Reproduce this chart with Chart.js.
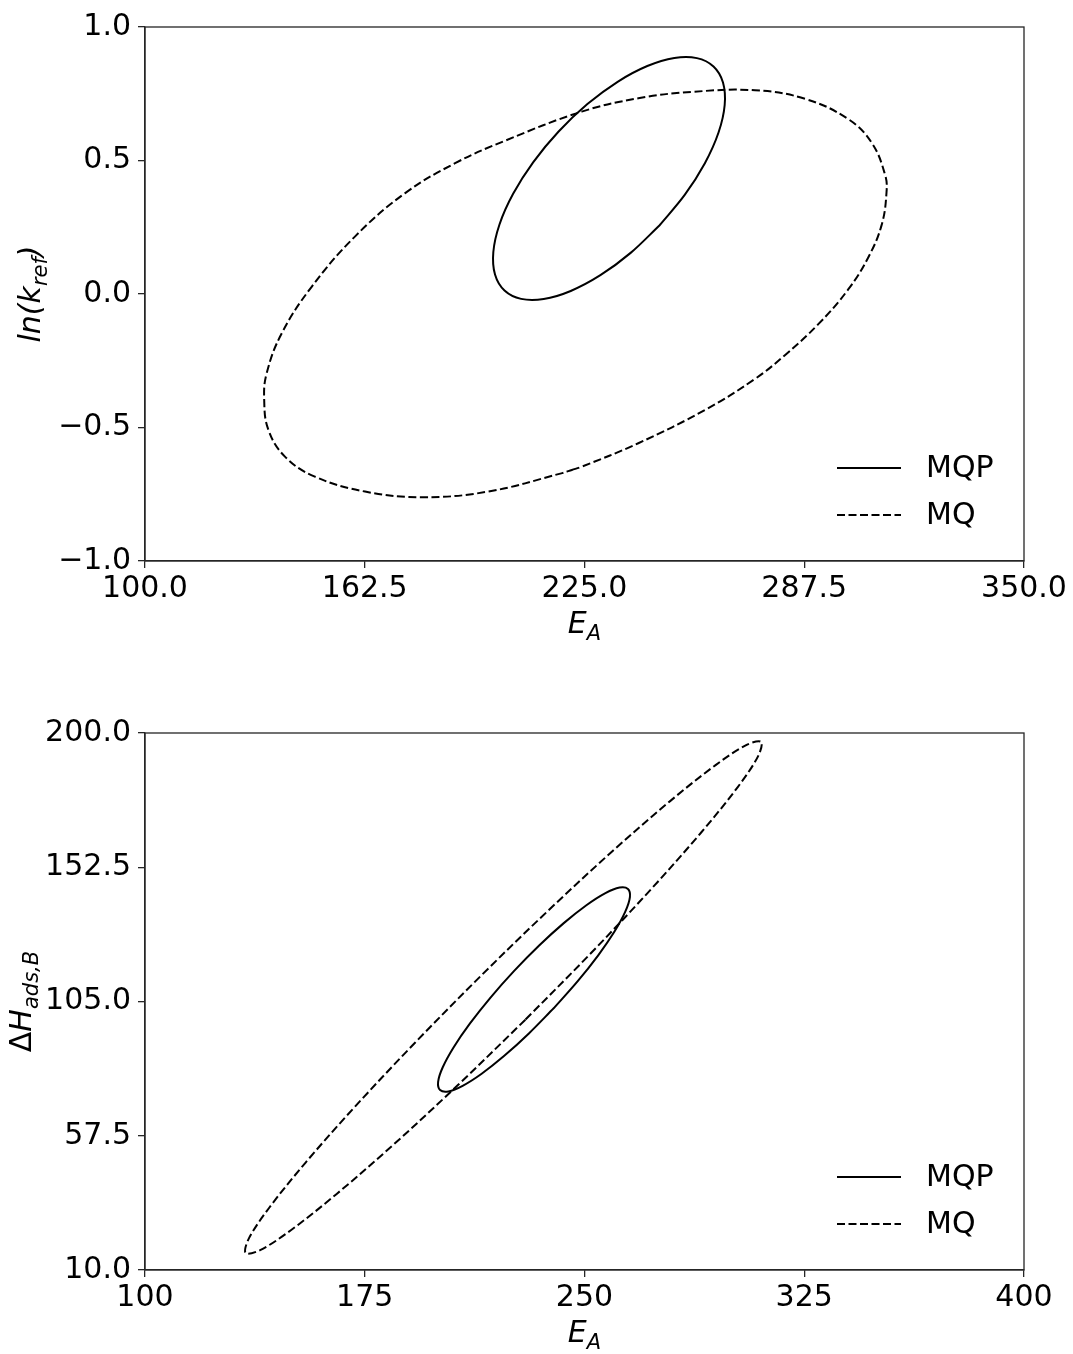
<!DOCTYPE html>
<html>
<head>
<meta charset="utf-8">
<script src="https://cdn.jsdelivr.net/npm/chart.js@4"></script>
<style>
  body { margin: 0; background: #fff; }
  .panel { position: absolute; left: 0; width: 1073px; }
</style>
</head>
<body>
<div class="panel" style="top:0;height:650px"><canvas id="top-plot"></canvas></div>
<div class="panel" style="top:700px;height:654px"><canvas id="bottom-plot"></canvas></div>
<script>
// ---- top panel: E_A vs ln(k_ref) ----
const topTicksX = [100, 162.5, 225, 287.5, 350];
const topTickLabelsX = ['100.0', '162.5', '225.0', '287.5', '350.0'];
const topTicksY = [-1, -0.5, 0, 0.5, 1];
const topTickLabelsY = ['\u22121.0', '\u22120.5', '0.0', '0.5', '1.0'];

const topMqpX = [246.30, 238.12, 229.52, 221.08, 213.40, 206.97, 202.25, 199.55, 199.07, 200.82, 204.70, 210.44, 217.64, 225.82, 234.42, 242.86, 250.55, 256.97, 261.69, 264.39, 264.87, 263.12, 259.24, 253.50, 246.30];
const topMqpY = [0.2566, 0.1540, 0.0704, 0.0114, -0.0188, -0.0183, 0.0130, 0.0729, 0.1572, 0.2604, 0.3752, 0.4940, 0.6086, 0.7112, 0.7948, 0.8538, 0.8840, 0.8835, 0.8522, 0.7923, 0.7080, 0.6048, 0.4900, 0.3712, 0.2566];

const topMqX = [221.4, 224.06, 240.3, 259.3, 273.5, 282.0, 291.5, 300.0, 305.7, 309.5, 310.9, 310.5, 306.7, 300.0, 287.7, 273.5, 255.5, 240.3, 224.2, 202.4, 188.2, 173.9, 159.7, 147.4, 138.9, 134.6, 133.9, 135.1, 139.8, 148.3, 162.6, 178.7, 197.6, 218.66, 221.4];
const topMqY = [-0.659, -0.6476, -0.559, -0.434, -0.318, -0.229, -0.113, 0.017, 0.137, 0.258, 0.381, 0.446, 0.566, 0.655, 0.731, 0.763, 0.757, 0.733, 0.683, 0.574, 0.490, 0.377, 0.215, 0.027, -0.147, -0.297, -0.397, -0.509, -0.609, -0.684, -0.740, -0.761, -0.740, -0.6708, -0.659];

// ---- bottom panel: E_A vs dH_ads,B ----
const botTicksX = [100, 175, 250, 325, 400];
const botTickLabelsX = ['100', '175', '250', '325', '400'];
const botTicksY = [10, 57.5, 105, 152.5, 200];
const botTickLabelsY = ['10.0', '57.5', '105.0', '152.5', '200.0'];

const botMqpX = [239.56, 231.02, 222.62, 214.90, 208.40, 203.56, 200.71, 200.04, 201.62, 205.30, 210.86, 217.92, 225.99, 234.52, 242.92, 250.64, 257.14, 261.98, 264.83, 265.50, 263.92, 260.24, 254.68, 247.62, 239.56];
const botMqpY = [102.68, 93.69, 85.77, 79.44, 75.16, 73.18, 73.67, 76.58, 81.73, 88.74, 97.15, 106.39, 115.82, 124.81, 132.73, 139.06, 143.35, 145.32, 144.83, 141.92, 136.78, 129.76, 121.35, 112.11, 102.68];

const botMqX = [229.82, 206.80, 184.84, 165.42, 149.90, 139.30, 134.36, 135.42, 142.40, 154.82, 171.84, 192.32, 214.82, 237.84, 259.80, 279.22, 294.74, 305.34, 310.28, 309.22, 302.24, 289.82, 272.80, 252.32, 229.82];
const botMqY = [98.56, 75.43, 54.39, 36.92, 24.17, 17.03, 15.98, 21.09, 32.03, 48.02, 67.99, 90.59, 114.26, 137.39, 158.43, 175.90, 188.65, 195.79, 196.84, 191.73, 180.79, 164.80, 144.83, 122.23, 98.56];

const seriesNames = ['MQP', 'MQ'];

const FONT = '"DejaVu Sans", "Liberation Sans", sans-serif';
const AXIS_COLOR = '#262626';

function zip(xs, ys) {
    return xs.map((x, i) => ({ x: x, y: ys[i] }));
}

// draws mathtext-like label: parts with optional italic / subscript
function drawMathLabel(ctx, parts, x, y, angle) {
    const fontFor = p => (p.italic ? 'italic ' : '') + (p.sub ? 21 : 30) + 'px ' + FONT;
    ctx.save();
    ctx.translate(x, y);
    ctx.rotate(angle);
    ctx.fillStyle = '#000';
    ctx.textBaseline = 'alphabetic';
    let total = 0;
    parts.forEach(p => { ctx.font = fontFor(p); total += ctx.measureText(p.t).width; });
    let cx = -total / 2;
    parts.forEach(p => {
        ctx.font = fontFor(p);
        ctx.fillText(p.t, cx, p.sub ? 7 : 0);
        cx += ctx.measureText(p.t).width;
    });
    ctx.restore();
}

const decorPlugin = {
    id: 'decor',
    afterDraw(chart, args, opts) {
        const ctx = chart.ctx;
        const area = chart.chartArea;
        // frame on all four sides
        ctx.save();
        ctx.strokeStyle = AXIS_COLOR;
        ctx.lineWidth = 1.3;
        ctx.strokeRect(area.left, area.top, area.right - area.left, area.bottom - area.top);
        ctx.restore();

        // legend, lower right inside the axes
        chart.data.datasets.forEach((ds, i) => {
            const y = area.bottom - 93 + i * 47;
            ctx.save();
            ctx.strokeStyle = ds.borderColor;
            ctx.lineWidth = ds.borderWidth;
            ctx.setLineDash(ds.borderDash || []);
            ctx.beginPath();
            ctx.moveTo(837, y);
            ctx.lineTo(901, y);
            ctx.stroke();
            ctx.setLineDash([]);
            ctx.fillStyle = '#000';
            ctx.font = '30px ' + FONT;
            ctx.textBaseline = 'middle';
            ctx.fillText(ds.label, 926, y + 1);
            ctx.restore();
        });

        // axis titles
        const midX = (area.left + area.right) / 2;
        const midY = (area.top + area.bottom) / 2;
        drawMathLabel(ctx, opts.xTitle, midX, area.bottom + opts.xTitleGap, 0);
        drawMathLabel(ctx, opts.yTitle, opts.yTitleX, midY, -Math.PI / 2);
    }
};

function makeChart(canvasId, cfg) {
    const ctx = document.getElementById(canvasId).getContext('2d');
    return new Chart(ctx, {
        type: 'scatter',
        data: {
            datasets: [{
                label: seriesNames[0],
                data: zip(cfg.mqpX, cfg.mqpY),
                showLine: true,
                borderColor: '#000',
                borderWidth: 2,
                pointRadius: 0,
                tension: 0.34,
                fill: false
            }, {
                label: seriesNames[1],
                data: zip(cfg.mqX, cfg.mqY),
                showLine: true,
                borderColor: '#000',
                borderWidth: 2,
                borderDash: [8, 3.5],
                pointRadius: 0,
                tension: cfg.mqTension,
                fill: false
            }]
        },
        options: {
            responsive: true,
            maintainAspectRatio: false,
            animation: false,
            layout: { padding: { top: cfg.padTop, right: 49, left: 0, bottom: 0 } },
            plugins: {
                legend: { display: false },
                tooltip: { enabled: false },
                decor: {
                    xTitle: cfg.xTitle,
                    yTitle: cfg.yTitle,
                    xTitleGap: cfg.xTitleGap,
                    yTitleX: cfg.yTitleX
                }
            },
            scales: {
                x: {
                    type: 'linear',
                    min: cfg.ticksX[0],
                    max: cfg.ticksX[cfg.ticksX.length - 1],
                    afterBuildTicks: s => { s.ticks = cfg.ticksX.map(v => ({ value: v })); },
                    afterFit: s => { s.height = cfg.xAxisHeight; },
                    ticks: {
                        autoSkip: false,
                        maxRotation: 0,
                        padding: 3,
                        color: '#000',
                        font: { family: FONT, size: 30 },
                        callback: (v, i) => cfg.tickLabelsX[i]
                    },
                    grid: { drawOnChartArea: false, drawTicks: true, tickLength: 7, color: AXIS_COLOR, lineWidth: 1.3 },
                    border: { display: true, color: AXIS_COLOR, width: 1.3 }
                },
                y: {
                    type: 'linear',
                    min: cfg.ticksY[0],
                    max: cfg.ticksY[cfg.ticksY.length - 1],
                    afterBuildTicks: s => { s.ticks = cfg.ticksY.map(v => ({ value: v })); },
                    afterFit: s => { s.width = 145; },
                    ticks: {
                        autoSkip: false,
                        padding: 7,
                        color: '#000',
                        font: { family: FONT, size: 30 },
                        callback: (v, i) => cfg.tickLabelsY[i]
                    },
                    grid: { drawOnChartArea: false, drawTicks: true, tickLength: 7, color: AXIS_COLOR, lineWidth: 1.3 },
                    border: { display: true, color: AXIS_COLOR, width: 1.3 }
                }
            }
        },
        plugins: [decorPlugin]
    });
}

const eaTitle = [{ t: 'E', italic: true }, { t: 'A', italic: true, sub: true }];

let topChart = makeChart('top-plot', {
    mqpX: topMqpX, mqpY: topMqpY, mqX: topMqX, mqY: topMqY, mqTension: 0.4,
    ticksX: topTicksX, tickLabelsX: topTickLabelsX,
    ticksY: topTicksY, tickLabelsY: topTickLabelsY,
    padTop: 27, xAxisHeight: 89,
    xTitle: eaTitle,
    yTitle: [{ t: 'ln(k', italic: true }, { t: 'ref', italic: true, sub: true }, { t: ')', italic: true }],
    xTitleGap: 72, yTitleX: 40
});

let bottomChart = makeChart('bottom-plot', {
    mqpX: botMqpX, mqpY: botMqpY, mqX: botMqX, mqY: botMqY, mqTension: 0.34,
    ticksX: botTicksX, tickLabelsX: botTickLabelsX,
    ticksY: botTicksY, tickLabelsY: botTickLabelsY,
    padTop: 33, xAxisHeight: 84,
    xTitle: eaTitle,
    yTitle: [{ t: '\u0394' }, { t: 'H', italic: true }, { t: 'ads,B', italic: true, sub: true }],
    xTitleGap: 72, yTitleX: 31
});
</script>
</body>
</html>
